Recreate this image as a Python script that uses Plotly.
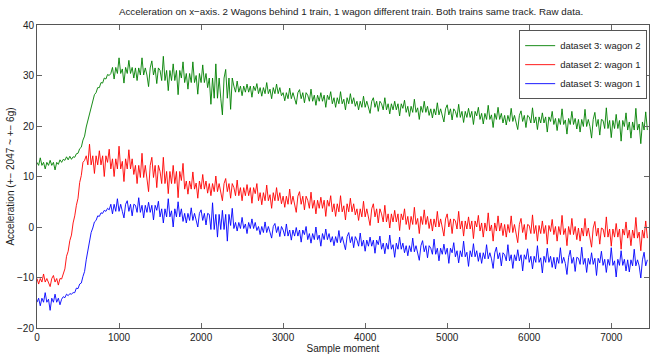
import numpy as np
import plotly.graph_objects as go

STEP = 20  # sample spacing of the values below

green_w2 = [
    12.8, 12.2, 13.7, 12.2, 12.8, 11.5, 12.8, 12.2, 13.2, 12.2, 12.8, 11.3, 12.8, 12.4, 13.3,
    12.8, 13.4, 13.2, 13.9, 13.3, 14.0, 13.4, 13.9, 13.8, 14.5, 14.6, 15.5, 15.8, 17.2, 18.0,
    19.8, 21.2, 22.1, 24.0, 24.8, 26.2, 26.6, 27.6, 27.6, 28.6, 28.5, 29.5, 29.3, 30.2, 30.0,
    30.4, 31.6, 29.3, 31.6, 30.4, 33.5, 30.4, 31.3, 28.5, 31.6, 30.4, 33.0, 30.4, 31.6, 29.5,
    31.5, 29.0, 31.5, 30.1, 33.5, 30.1, 31.5, 30.1, 27.8, 31.5, 32.9, 30.1, 31.5, 28.4, 31.5,
    31.0, 29.0, 33.8, 29.0, 31.0, 27.0, 31.0, 29.0, 32.3, 29.0, 31.0, 26.2, 31.0, 29.5, 32.7,
    28.6, 30.4, 27.3, 30.4, 28.6, 32.7, 28.6, 30.0, 26.3, 30.4, 28.6, 32.1, 28.6, 30.4, 27.6,
    29.5, 24.3, 29.5, 25.5, 32.3, 25.5, 29.5, 25.5, 22.2, 29.5, 31.2, 25.5, 29.5, 23.3, 29.5,
    27.9, 26.7, 28.9, 26.7, 27.9, 26.0, 27.9, 26.7, 28.3, 26.7, 27.9, 25.7, 27.9, 27.0, 28.4,
    26.4, 27.6, 25.9, 27.6, 26.4, 28.6, 26.4, 27.3, 25.4, 27.6, 26.4, 28.3, 26.4, 27.6, 26.0,
    26.6, 25.0, 26.6, 25.4, 27.5, 25.4, 26.6, 25.4, 24.3, 26.6, 27.2, 25.4, 26.6, 24.6, 26.6,
    26.1, 24.9, 27.3, 24.9, 26.1, 24.1, 26.1, 24.9, 26.6, 24.9, 26.1, 23.7, 26.1, 25.2, 26.8,
    24.4, 25.6, 23.7, 25.6, 24.4, 26.8, 24.4, 25.3, 23.2, 25.6, 24.4, 26.4, 24.4, 25.6, 23.9,
    24.9, 23.2, 24.9, 23.7, 25.9, 23.7, 24.9, 23.7, 22.5, 24.9, 25.6, 23.7, 24.9, 22.9, 24.9,
    24.4, 23.2, 25.6, 23.2, 24.4, 22.4, 24.4, 23.2, 24.9, 23.2, 24.4, 22.0, 24.4, 23.5, 25.1,
    22.7, 23.9, 21.9, 23.9, 22.7, 25.3, 22.7, 23.6, 21.3, 23.9, 22.7, 24.9, 22.7, 23.9, 22.1,
    23.4, 21.6, 23.4, 22.2, 24.6, 22.2, 23.4, 22.2, 20.8, 23.4, 24.2, 22.2, 23.4, 21.2, 23.4,
    22.9, 21.7, 24.3, 21.7, 22.9, 20.7, 22.9, 21.7, 23.5, 21.7, 22.9, 20.3, 22.9, 22.0, 23.7,
    21.3, 22.5, 20.4, 22.5, 21.3, 24.1, 21.3, 22.2, 19.7, 22.5, 21.3, 23.7, 21.3, 22.5, 20.6,
    22.1, 20.2, 22.1, 20.9, 23.5, 20.9, 22.1, 20.9, 19.3, 22.1, 23.0, 20.9, 22.1, 19.7, 22.1,
    21.8, 20.6, 23.6, 20.6, 21.8, 19.3, 21.8, 20.6, 22.6, 20.6, 21.8, 18.8, 21.8, 20.9, 22.9,
    20.3, 21.5, 19.1, 21.5, 20.3, 23.4, 20.3, 21.2, 18.4, 21.5, 20.3, 22.9, 20.3, 21.5, 19.4,
    21.3, 18.8, 21.3, 19.9, 23.3, 19.9, 21.3, 19.9, 17.6, 21.3, 22.7, 19.9, 21.3, 18.2, 21.3,
    21.1, 19.5, 23.6, 19.5, 21.1, 17.7, 21.1, 19.5, 22.3, 19.5, 21.1, 17.0, 21.1, 19.9, 22.6,
    19.2, 20.8, 17.6, 20.8, 19.2, 23.5, 19.2, 20.4, 16.5, 20.8, 19.2, 22.8, 19.2,
]

red_d2w1 = [
    -10.2, -11.3, -10.2, -10.9, -9.3, -10.9, -10.2, -10.9, -11.8, -10.2, -9.6, -10.9, -10.2, -11.5, -10.2,
    -10.3, -9.2, -8.3, -5.8, -4.8, -2.7, -1.6, 0.8, 2.2, 4.3, 5.7, 8.8, 10.2, 12.8, 13.2,
    14.1, 12.3, 16.4, 12.3, 14.1, 10.6, 14.1, 12.3, 15.1, 12.3, 14.1, 10.0, 14.1, 12.8, 15.4,
    11.5, 13.5, 10.0, 13.5, 11.5, 16.0, 11.5, 13.0, 9.0, 13.5, 11.5, 15.3, 11.5, 13.5, 10.4,
    12.2, 8.6, 12.2, 9.8, 14.6, 9.8, 12.2, 9.8, 7.0, 12.2, 13.8, 9.8, 12.2, 7.8, 12.2,
    11.0, 8.6, 13.8, 8.6, 11.0, 6.6, 11.0, 8.6, 12.2, 8.6, 11.0, 5.8, 11.0, 9.2, 12.6,
    7.5, 9.1, 6.5, 9.1, 7.5, 10.9, 7.5, 8.7, 5.7, 9.1, 7.5, 10.4, 7.5, 9.1, 6.7,
    8.6, 6.2, 8.6, 7.0, 10.1, 7.0, 8.6, 7.0, 5.2, 8.6, 9.6, 7.0, 8.6, 5.7, 8.6,
    7.8, 6.2, 9.3, 6.2, 7.8, 5.2, 7.8, 6.2, 8.4, 6.2, 7.8, 4.7, 7.8, 6.6, 8.6,
    5.2, 6.8, 4.4, 6.8, 5.2, 8.3, 5.2, 6.4, 3.7, 6.8, 5.2, 7.8, 5.2, 6.8, 4.6,
    6.1, 3.9, 6.1, 4.5, 7.5, 4.5, 6.1, 4.5, 2.9, 6.1, 7.0, 4.5, 6.1, 3.4, 6.1,
    5.3, 3.7, 6.9, 3.7, 5.3, 2.6, 5.3, 3.7, 5.9, 3.7, 5.3, 2.1, 5.3, 4.1, 6.2,
    3.0, 4.6, 2.1, 4.6, 3.0, 6.2, 3.0, 4.2, 1.4, 4.6, 3.0, 5.7, 3.0, 4.6, 2.4,
    3.6, 1.3, 3.6, 2.0, 5.1, 2.0, 3.6, 2.0, 0.3, 3.6, 4.6, 2.0, 3.6, 0.8, 3.6,
    2.6, 1.0, 4.3, 1.0, 2.6, -0.2, 2.6, 1.0, 3.3, 1.0, 2.6, -0.7, 2.6, 1.4, 3.6,
    0.5, 2.1, -0.5, 2.1, 0.5, 3.9, 0.5, 1.7, -1.3, 2.1, 0.5, 3.4, 0.5, 2.1, -0.3,
    1.6, -0.8, 1.6, 0.0, 3.1, 0.0, 1.6, 0.0, -1.8, 1.6, 2.6, 0.0, 1.6, -1.3, 1.6,
    1.2, -0.4, 3.1, -0.4, 1.2, -1.8, 1.2, -0.4, 2.0, -0.4, 1.2, -2.3, 1.2, 0.0, 2.3,
    -0.8, 0.8, -2.0, 0.8, -0.8, 2.8, -0.8, 0.4, -2.8, 0.8, -0.8, 2.2, -0.8, 0.8, -1.7,
    0.5, -2.0, 0.5, -1.1, 2.2, -1.1, 0.5, -1.1, -3.1, 0.5, 1.7, -1.1, 0.5, -2.5, 0.5,
    0.3, -1.3, 2.4, -1.3, 0.3, -2.8, 0.3, -1.3, 1.2, -1.3, 0.3, -3.4, 0.3, -0.9, 1.5,
    -1.5, 0.1, -2.8, 0.1, -1.5, 2.3, -1.5, -0.3, -3.7, 0.1, -1.5, 1.7, -1.5, 0.1, -2.5,
    -0.2, -2.8, -0.2, -1.8, 1.7, -1.8, -0.2, -1.8, -4.0, -0.2, 1.1, -1.8, -0.2, -3.4, -0.2,
    -0.4, -2.0, 2.0, -2.0, -0.4, -3.8, -0.4, -2.0, 0.7, -2.0, -0.4, -4.4, -0.4, -1.6, 1.0,
    -2.2, -0.6, -3.7, -0.6, -2.2, 1.9, -2.2, -1.0, -4.7, -0.6, -2.2, 1.2, -2.2,
]

blue_d3w1 = [
    -14.9, -14.1, -15.6, -14.1, -14.9, -13.0, -14.9, -14.3, -16.5, -14.1, -14.9, -13.3, -14.9, -14.1, -15.4,
    -14.3, -13.8, -14.0, -13.3, -13.6, -13.2, -13.3, -13.0, -13.0, -12.1, -12.2, -11.3, -11.1, -9.8, -8.8,
    -6.5, -4.6, -3.2, -1.1, -0.2, 1.0, 1.3, 2.2, 2.1, 2.8, 2.7, 3.3, 3.1, 3.7, 3.4,
    4.5, 2.6, 4.5, 3.1, 5.6, 3.1, 4.5, 3.1, 1.8, 4.5, 5.2, 3.1, 4.5, 2.2, 4.5,
    4.3, 2.9, 5.8, 2.9, 4.3, 1.8, 4.3, 2.9, 4.9, 2.9, 4.3, 1.4, 4.3, 3.3, 5.1,
    2.0, 3.6, 0.8, 3.6, 2.0, 5.6, 2.0, 3.2, 0.0, 3.6, 2.0, 5.0, 2.0, 3.6, 1.1,
    2.7, 0.8, 2.7, 1.3, 3.8, 1.3, 2.7, 1.3, 0.0, 2.7, 3.4, 1.3, 2.7, 0.4, 2.7,
    2.5, -0.5, 4.8, -0.5, 2.5, -2.0, 2.5, -0.5, 3.3, -0.5, 2.5, -2.8, 2.5, 0.3, 3.7,
    -0.3, 0.9, -0.8, 0.9, -0.3, 1.9, -0.3, 0.6, -1.3, 0.9, -0.3, 1.6, -0.3, 0.9, -0.7,
    0.1, -1.5, 0.1, -1.1, 1.0, -1.1, 0.1, -1.1, -2.2, 0.1, 0.7, -1.1, 0.1, -1.9, 0.1,
    -0.6, -1.8, 0.6, -1.8, -0.6, -2.6, -0.6, -1.8, -0.1, -1.8, -0.6, -3.0, -0.6, -1.5, 0.1,
    -2.5, -1.3, -3.2, -1.3, -2.5, 0.0, -2.5, -1.6, -3.8, -1.3, -2.5, -0.4, -2.5, -1.3, -3.0,
    -1.9, -3.7, -1.9, -3.1, -0.7, -3.1, -1.9, -3.1, -4.5, -1.9, -1.1, -3.1, -1.9, -4.1, -1.9,
    -2.6, -3.8, -1.2, -3.8, -2.6, -4.8, -2.6, -3.8, -2.0, -3.8, -2.6, -5.2, -2.6, -3.5, -1.8,
    -4.4, -3.2, -5.3, -3.2, -4.4, -1.6, -4.4, -3.5, -6.0, -3.2, -4.4, -2.0, -4.4, -3.2, -5.1,
    -3.7, -5.7, -3.7, -4.9, -2.2, -4.9, -3.7, -4.9, -6.6, -3.7, -2.7, -4.9, -3.7, -6.1, -3.7,
    -4.2, -5.4, -2.4, -5.4, -4.2, -6.7, -4.2, -5.4, -3.4, -5.4, -4.2, -7.2, -4.2, -5.1, -3.1,
    -5.9, -4.7, -7.1, -4.7, -5.9, -2.8, -5.9, -5.0, -7.8, -4.7, -5.9, -3.3, -5.9, -4.7, -6.8,
    -5.1, -7.2, -5.1, -6.3, -3.5, -6.3, -5.1, -6.3, -8.2, -5.1, -4.0, -6.3, -5.1, -7.7, -5.1,
    -5.5, -6.7, -3.5, -6.7, -5.5, -8.2, -5.5, -6.7, -4.5, -6.7, -5.5, -8.7, -5.5, -6.4, -4.3,
    -7.0, -5.8, -8.3, -5.8, -7.0, -3.7, -7.0, -6.1, -9.1, -5.8, -7.0, -4.2, -7.0, -5.8, -8.0,
    -6.0, -8.3, -6.0, -7.2, -4.1, -7.2, -6.0, -7.2, -9.4, -6.0, -4.6, -7.2, -6.0, -8.8, -6.0,
    -6.2, -7.4, -4.0, -7.4, -6.2, -9.0, -6.2, -7.4, -5.1, -7.4, -6.2, -9.6, -6.2, -7.1, -4.8,
    -7.6, -6.4, -9.0, -6.4, -7.6, -4.1, -7.6, -6.7, -9.9, -6.4, -7.6, -4.7, -7.6, -6.4, -8.7,
    -6.5, -8.9, -6.5, -7.7, -4.4, -7.7, -6.5, -7.7, -10.1, -6.5, -5.0, -7.7, -6.5,
]

series_names = ["dataset 3: wagon 2", "dataset 2: wagon 1", "dataset 3: wagon 1"]
x_ticks = [0, 1000, 2000, 3000, 4000, 5000, 6000, 7000]
y_ticks = [-20, -10, 0, 10, 20, 30, 40]

FONT = "Liberation Sans, Arial, sans-serif"
TXT = "#222"
colors = ["rgb(0,128,0)", "rgb(255,0,0)", "rgb(0,0,255)"]

fig = go.Figure()
for name, vals, col in zip(series_names, [green_w2, red_d2w1, blue_d3w1], colors):
    fig.add_trace(go.Scatter(
        x=np.arange(len(vals)) * STEP, y=vals, mode="lines", name=name,
        line=dict(color=col, width=0.9),
    ))

axis_common = dict(
    showgrid=False, zeroline=False, showline=True, mirror="ticks",
    linecolor="#555", linewidth=1, ticks="inside", ticklen=5,
    tickcolor="#666", automargin=False,
    tickfont=dict(family=FONT, size=10, color=TXT),
)

fig.update_layout(
    width=650, height=360,
    margin=dict(l=37, r=1, t=25, b=32),
    paper_bgcolor="white", plot_bgcolor="white",
    font=dict(family=FONT, size=10, color=TXT),
    title=dict(
        text="Acceleration on x\u2212axis. 2 Wagons behind 1 train, 1 wagon different train. Both trains same track. Raw data.",
        x=0.54, xanchor="center", y=0.967, yanchor="middle",
        font=dict(family=FONT, size=9.8, color=TXT),
    ),
    xaxis=dict(range=[0, 7460], tickvals=x_ticks,
               title=dict(text="Sample moment", standoff=0,
                          font=dict(family=FONT, size=10, color=TXT)),
               **axis_common),
    yaxis=dict(range=[-20, 40], tickvals=y_ticks,
               title=dict(text="Acceleration (+\u2212 2047 ~ +\u2212 6g)", standoff=0,
                          font=dict(family=FONT, size=10, color=TXT)),
               **axis_common),
    legend=dict(
        x=0.997, xanchor="right", y=0.983, yanchor="top",
        bgcolor="white", bordercolor="#555", borderwidth=1,
        font=dict(family=FONT, size=9.5, color=TXT),
        itemwidth=30, tracegroupgap=0,
    ),
    showlegend=True,
)

fig.write_html(
    "out.html",
    config={"displayModeBar": False},
    post_script="document.body.style.margin='0';document.body.style.overflow='hidden';",
)
